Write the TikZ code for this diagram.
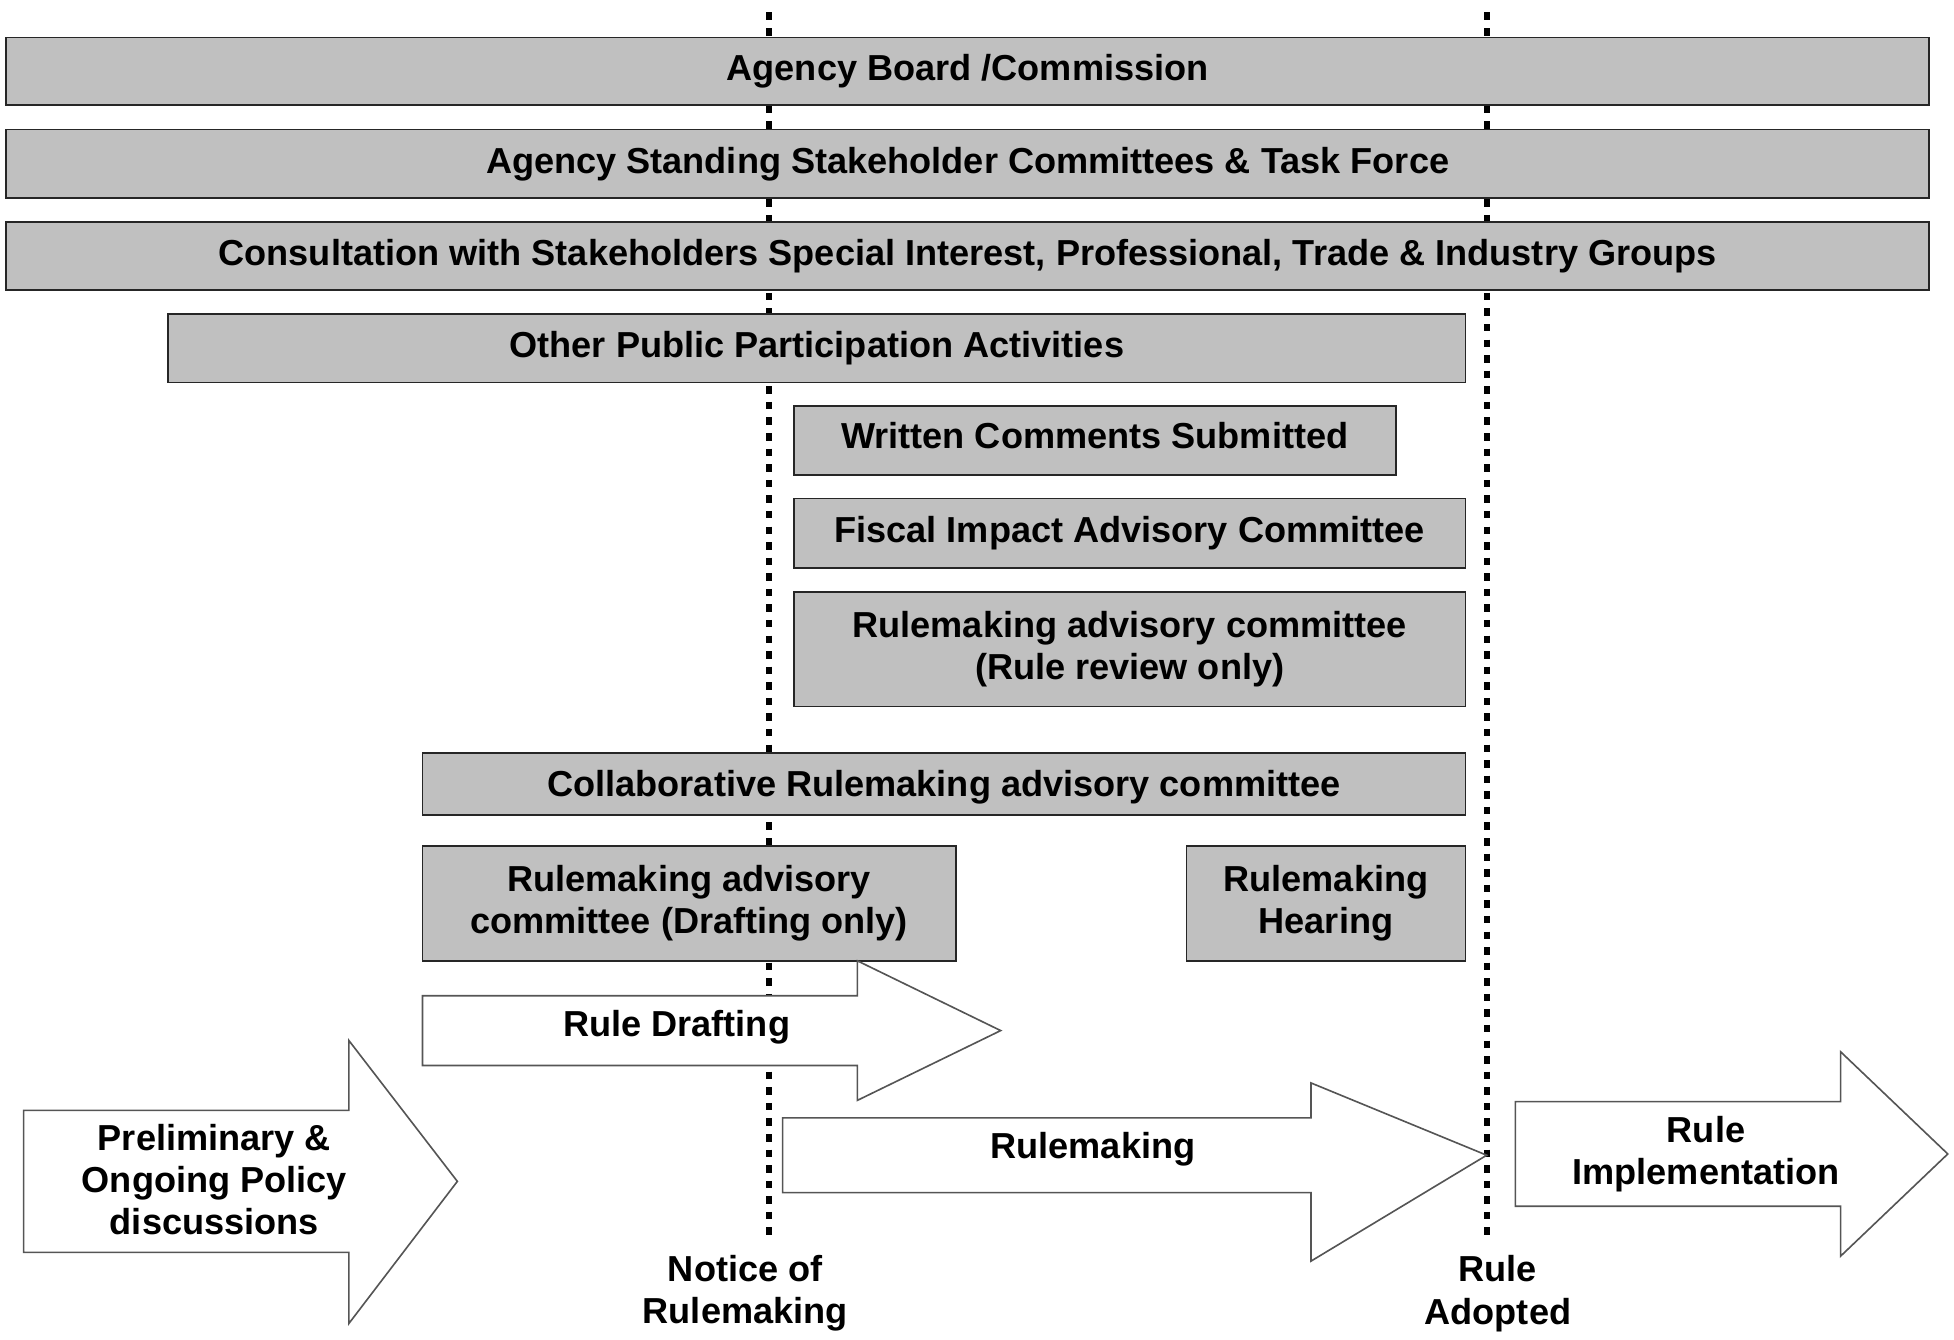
\documentclass[tikz,border=0pt]{standalone}
\usepackage{fontspec}
\setmainfont{Liberation Sans}
\definecolor{barfill}{RGB}{192,192,192}
\definecolor{arrowline}{RGB}{85,85,85}
\newcommand\diagfont{\bfseries\fontsize{29}{34}\selectfont}
\begin{document}
\begin{tikzpicture}[x=1pt,y=-1pt,
  bar/.style={draw=black!85, line width=1.4pt, fill=barfill, font=\diagfont,
    align=center, inner sep=0pt},
  flow/.style={draw=arrowline, line width=1.3pt, fill=white, line join=miter},
  caption/.style={font=\diagfont, align=center, inner sep=0pt},
  milestone/.style={line width=4.5pt, dash pattern=on 6pt off 6.5pt}]
\useasboundingbox (0,0) rectangle (1568,1075);

% milestone lines
\coordinate (nTop) at (617,10);
\coordinate (nBot) at (617,992);
\coordinate (aTop) at (1193,10);
\coordinate (aBot) at (1193,992);
\draw[milestone] (nTop) -- (nBot);
\draw[milestone] (aTop) -- (aBot);

% participation bars
\node[bar, minimum width=1543, minimum height=54] (board) at (776.5,57) {Agency Board /Commission};
\node[bar, minimum width=1543, minimum height=55] (standing) at (776.5,131.5) {Agency Standing Stakeholder Committees \& Task Force};
\node[bar, minimum width=1543, minimum height=55] (consult) at (776.5,205.5) {Consultation with Stakeholders Special Interest, Professional, Trade \& Industry Groups};
\node[bar, minimum width=1041, minimum height=55] (public) at (655.5,279.5) {Other Public Participation Activities};
\node[bar, minimum width=483, minimum height=55, text height=18pt, text depth=6pt] (written) at (878.5,353.5) {Written Comments Submitted};
\node[bar, minimum width=539, minimum height=56] (fiscal) at (906.5,428) {Fiscal Impact Advisory Committee};
\node[bar, minimum width=539, minimum height=92] (review) at (906.5,521) {Rulemaking advisory committee\\(Rule review only)};
\node[bar, minimum width=837, minimum height=50, text height=27pt, text depth=6pt] (collab) at (757.5,629) {Collaborative Rulemaking advisory committee};
\node[bar, minimum width=428, minimum height=92] (drafting) at (553,725) {Rulemaking advisory\\committee (Drafting only)};
\node[bar, minimum width=224, minimum height=92] (hearing) at (1064,725) {Rulemaking\\Hearing};

% process arrows
\draw[flow] (339,799) -- (688,799) -- (688,771) -- (803,827) -- (688,883) -- (688,855) -- (339,855) -- cycle;
\node[caption] (draftlbl) at (543,824) {Rule Drafting};

\draw[flow] (19,891) -- (280,891) -- (280,835) -- (367,948) -- (280,1062) -- (280,1005) -- (19,1005) -- cycle;
\node[caption] (prelim) at (172,946.5) {Preliminary \&\\Ongoing Policy\\discussions};

\draw[flow] (628,897) -- (1052,897) -- (1052,869) -- (1193,927) -- (1052,1012) -- (1052,957) -- (628,957) -- cycle;
\node[caption] (rmlbl) at (877,922) {Rulemaking};

\draw[flow] (1216,884) -- (1477,884) -- (1477,844) -- (1563,926) -- (1477,1008) -- (1477,968) -- (1216,968) -- cycle;
\node[caption] (impl) at (1369,926) {Rule\\Implementation};

% milestone captions
\node[caption] (notice) at (598,1038) {Notice of\\Rulemaking};
\node[caption] (adopted) at (1202,1038) {Rule\\Adopted};
\end{tikzpicture}
\end{document}
